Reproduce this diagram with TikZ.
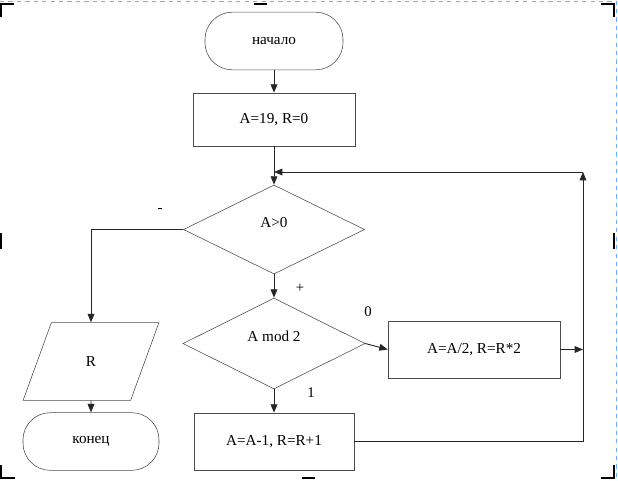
\documentclass[tikz,border=0pt]{standalone}
\usepackage{fontspec}
\setmainfont{Liberation Serif}
\usetikzlibrary{shapes.geometric, arrows.meta, positioning}

\tikzset{
  terminal/.style={draw=black!70, rounded corners=0.68cm, minimum width=3.45cm, minimum height=1.44cm, inner sep=0pt},
  process/.style={draw=black!70, rectangle, minimum height=1.425cm, inner sep=0pt},
  decision/.style={draw=black!70, diamond, aspect=2, inner sep=0pt, text height=0.27cm, text depth=0.37cm},
  io/.style={draw=black!70, trapezium, trapezium left angle=70, trapezium right angle=110, minimum height=1.425cm, inner sep=0pt},
  flow/.style={draw=black!85, line width=0.65pt, -{Triangle[length=6pt,width=4.8pt]}},
  branch/.style={font=\fontsize{10.5}{12}\selectfont},
  cropmark/.style={line width=2pt, black},
}

\begin{document}
\begin{tikzpicture}[x=0.025cm, y=-0.025cm, font=\fontsize{10.8}{13}\selectfont]
  \useasboundingbox (0,0) rectangle (618,480);

  % Page border and crop marks
  \draw[dashed, blue!50!cyan!60, line width=0.5pt] (0,1) -- (616.5,1) -- (616.5,480);
  \draw[cropmark] (1,17) -- (1,4) -- (14,4);
  \draw[cropmark] (254,4) -- (267,4);
  \draw[cropmark] (601,4) -- (614,4) -- (614,17);
  \draw[cropmark] (1,233) -- (1,249);
  \draw[cropmark] (614,233) -- (614,249);
  \draw[cropmark] (1,465) -- (1,478) -- (15,478);
  \draw[cropmark] (302,478) -- (315,478);
  \draw[cropmark] (601,478) -- (614,478) -- (614,465);

  % Blocks
  \node[terminal] (start) at (274,41) {начало};
  \node[process, minimum width=4.05cm, minimum height=1.325cm] (init) at (274,119.5) {A=19, R=0};
  \node[decision, minimum width=4.525cm, minimum height=2.225cm] (check) at (274,229.5) {A>0};
  \node[decision, minimum width=4.55cm, minimum height=2.275cm] (parity) at (274,343.5) {A mod 2};
  \node[process, minimum width=4.3cm] (half) at (474,349.5) {A=A/2, R=R*2};
  \node[process, minimum width=4cm] (dec) at (274,441.5) {A=A-1, R=R+1};
  \node[io, minimum width=3.4cm] (out) at (91,361.5) {R};
  \node[terminal, minimum width=3.4cm] (stop) at (91,441.5) {конец};

  % Branch labels
  \node[branch] (minus) at (160,210) {-};
  \node[branch] (plus) at (300,288) {+};
  \node[branch] (zero) at (368,312) {0};
  \node[branch] (one) at (311,393) {1};

  % Loop corner
  \coordinate (back) at (583,172);
  \coordinate (merge) at (init.south |- back);

  % Connectors
  \draw[flow] (start) -- (init);
  \draw[flow] (init) -- (check);
  \draw[flow] (check) -- (parity);
  \draw[flow] (parity.east) -- (half.west);
  \draw[flow] (parity) -- (dec);
  \draw[flow] (half.east) -- (half.east -| back);
  \draw[flow] (dec.east) -- (dec.east -| back) -- (back);
  \draw[flow] (back) -- (merge);
  \draw[flow] (check.west) -| (out.north);
  \draw[flow] (out) -- (stop);
\end{tikzpicture}
\end{document}
